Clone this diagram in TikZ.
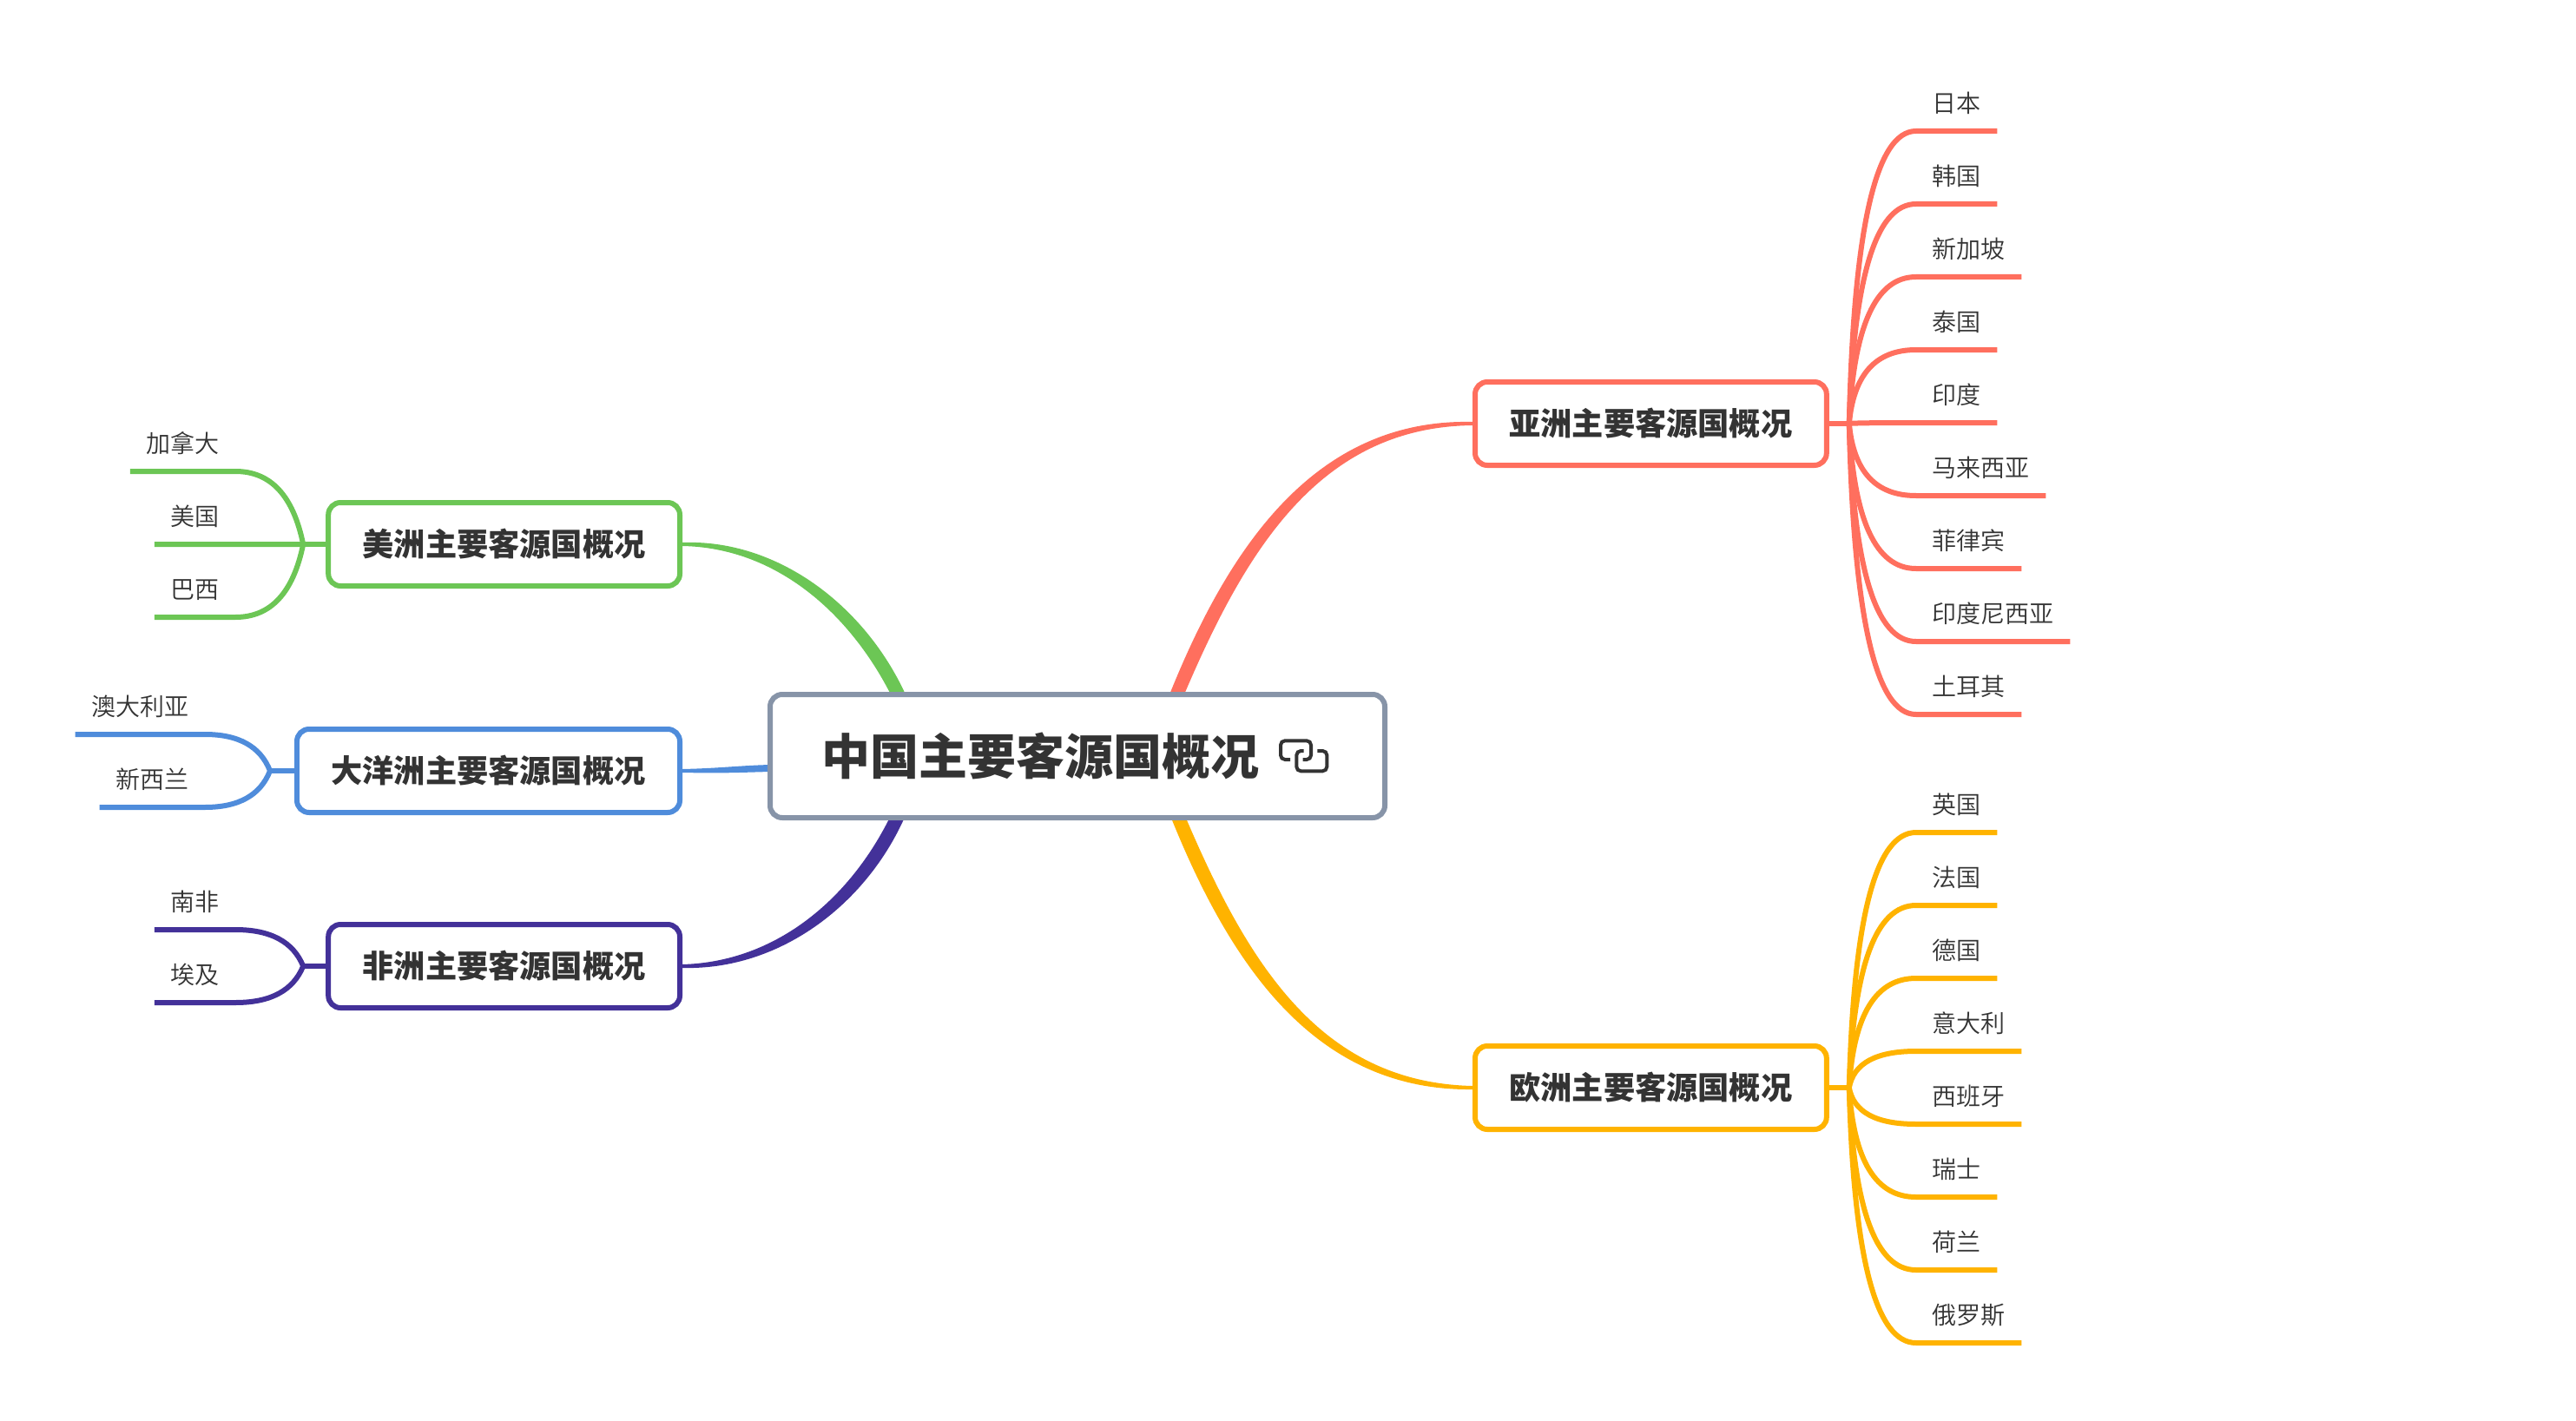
\documentclass[tikz,border=0pt]{standalone}
\usepackage{fontspec}
\setmainfont{Noto Sans CJK SC}
\newfontfamily\leaffont{Noto Sans CJK SC DemiLight}
\usetikzlibrary{positioning,calc,backgrounds}

\definecolor{rootgray}{HTML}{8794A8}
\definecolor{inkgray}{HTML}{333333}
\definecolor{asiared}{HTML}{FF6F5E}
\definecolor{euroyellow}{HTML}{FFB300}
\definecolor{amergreen}{HTML}{6CC655}
\definecolor{oceablue}{HTML}{4F8CDB}
\definecolor{afripurple}{HTML}{433199}

% one thin branch: colour, hub, near end of the leaf line, far end of the leaf line
\newcommand{\twig}[5][.1]{%
  \coordinate (bend) at ($(#3 |- #4)!#1!(#4)$);
  \draw[twigline, #2] (#3) .. controls ($(#3)!.667!(bend)$) and ($(#4)!.667!(bend)$) .. (#4) -- (#5);}

\begin{document}
\begin{tikzpicture}[
  rootbox/.style={rectangle, rounded corners=.14cm, draw=rootgray, fill=white, line width=.06cm, minimum width=7.08cm, minimum height=1.42cm, inner xsep=0pt, text=inkgray, text height=14pt, text depth=1.9pt, font=\fontsize{15.93pt}{19pt}\selectfont\bfseries},
  subbox/.style={rectangle, rounded corners=.14cm, draw=#1, fill=white, line width=.06cm, minimum height=.96cm, inner xsep=.395cm, text=inkgray, text height=9pt, text depth=1.23pt, font=\fontsize{10.3pt}{12pt}\selectfont\bfseries},
  leafbox/.style={inner xsep=.18cm, inner ysep=0pt, text=inkgray, text height=8pt, text depth=5.8pt, font=\leaffont\fontsize{7.97pt}{10pt}\selectfont},
  leafr/.style={leafbox, anchor=south west},
  leafl/.style={leafbox, anchor=south east},
  twigline/.style={line width=.06cm},
  taper/.style={line width=.04cm, fill=#1, draw=#1, line join=round},
  linkicon/.style={draw=inkgray, line width=.04cm, rounded corners=.05cm},
  node distance=.84cm
]
\useasboundingbox (0,0) rectangle (29.67,-16.37);

\node[rootbox] (root) at (12.41,-8.71) {中国主要客源国概况\kern.85cm};

\node[subbox=asiared, above right=2.58cm and .98cm of root] (asia) {亚洲主要客源国概况};
\node[subbox=euroyellow, below right=2.57cm and .98cm of root] (euro) {欧洲主要客源国概况};
\node[subbox=amergreen, above left=1.19cm and .98cm of root] (amer) {美洲主要客源国概况};
\node[subbox=oceablue, left=.98cm of root, yshift=-.17cm] (ocea) {大洋洲主要客源国概况};
\node[subbox=afripurple, below left=1.17cm and .98cm of root] (afri) {非洲主要客源国概况};

\coordinate (asiahub) at ($(asia.east)+(.23,0)$);
\coordinate (eurohub) at ($(euro.east)+(.23,0)$);
\coordinate (amerhub) at ($(amer.west)+(-.26,0)$);
\coordinate (oceahub) at ($(ocea.west)+(-.28,0)$);
\coordinate (afrihub) at ($(afri.west)+(-.26,0)$);

% asia leaves
\node[above right=2.86cm and 1.0cm of asia.north east, leafr] (as1) {日本};
\node[below=of as1.south west, leafr] (as2) {韩国};
\node[below=of as2.south west, leafr] (as3) {新加坡};
\node[below=of as3.south west, leafr] (as4) {泰国};
\node[below=of as4.south west, leafr] (as5) {印度};
\node[below=of as5.south west, leafr] (as6) {马来西亚};
\node[below=of as6.south west, leafr] (as7) {菲律宾};
\node[below=of as7.south west, leafr] (as8) {印度尼西亚};
\node[below=of as8.south west, leafr] (as9) {土耳其};

% europe leaves
\node[above right=2.43cm and 1.0cm of euro.north east, leafr] (eu1) {英国};
\node[below=of eu1.south west, leafr] (eu2) {法国};
\node[below=of eu2.south west, leafr] (eu3) {德国};
\node[below=of eu3.south west, leafr] (eu4) {意大利};
\node[below=of eu4.south west, leafr] (eu5) {西班牙};
\node[below=of eu5.south west, leafr] (eu6) {瑞士};
\node[below=of eu6.south west, leafr] (eu7) {荷兰};
\node[below=of eu7.south west, leafr] (eu8) {俄罗斯};

% left side leaves
\node[above left=.33cm and 1.04cm of amer.north west, leafl] (am1) {加拿大};
\node[below=of am1.south east, leafl] (am2) {美国};
\node[below=of am2.south east, leafl] (am3) {巴西};
\node[above left=-.09cm and 1.03cm of ocea.north west, leafl] (oc1) {澳大利亚};
\node[below=of oc1.south east, leafl] (oc2) {新西兰};
\node[above left=-.09cm and 1.04cm of afri.north west, leafl] (af1) {南非};
\node[below=of af1.south east, leafl] (af2) {埃及};

% thin branches
\draw[twigline, asiared] (asia) -- (asiahub);
\twig{asiared}{asiahub}{as1.south west}{as1.south east}
\twig{asiared}{asiahub}{as2.south west}{as2.south east}
\twig{asiared}{asiahub}{as3.south west}{as3.south east}
\twig{asiared}{asiahub}{as4.south west}{as4.south east}
\twig{asiared}{asiahub}{as5.south west}{as5.south east}
\twig{asiared}{asiahub}{as6.south west}{as6.south east}
\twig{asiared}{asiahub}{as7.south west}{as7.south east}
\twig{asiared}{asiahub}{as8.south west}{as8.south east}
\twig{asiared}{asiahub}{as9.south west}{as9.south east}

\draw[twigline, euroyellow] (euro) -- (eurohub);
\twig{euroyellow}{eurohub}{eu1.south west}{eu1.south east}
\twig{euroyellow}{eurohub}{eu2.south west}{eu2.south east}
\twig{euroyellow}{eurohub}{eu3.south west}{eu3.south east}
\twig{euroyellow}{eurohub}{eu4.south west}{eu4.south east}
\twig{euroyellow}{eurohub}{eu5.south west}{eu5.south east}
\twig{euroyellow}{eurohub}{eu6.south west}{eu6.south east}
\twig{euroyellow}{eurohub}{eu7.south west}{eu7.south east}
\twig{euroyellow}{eurohub}{eu8.south west}{eu8.south east}

\draw[twigline, amergreen] (amer) -- (amerhub);
\twig[.22]{amergreen}{amerhub}{am1.south east}{am1.south west}
\twig[.22]{amergreen}{amerhub}{am2.south east}{am2.south west}
\twig[.22]{amergreen}{amerhub}{am3.south east}{am3.south west}

\draw[twigline, oceablue] (ocea) -- (oceahub);
\twig[.22]{oceablue}{oceahub}{oc1.south east}{oc1.south west}
\twig[.22]{oceablue}{oceahub}{oc2.south east}{oc2.south west}

\draw[twigline, afripurple] (afri) -- (afrihub);
\twig[.22]{afripurple}{afrihub}{af1.south east}{af1.south west}
\twig[.22]{afripurple}{afrihub}{af2.south east}{af2.south west}

% thick branches, tapering away from the root
\begin{scope}[on background layer]
\draw[taper=asiared] (asia.west) .. controls (15.2,-4.84) and (14.2,-6.24) .. ($(root.north)+(1.082,-.03)$) -- ($(root.north)+(1.208,-.03)$) .. controls (14.34,-6.30) and (15.2,-4.90) .. (asia.west);
\draw[taper=euroyellow] (euro.west) .. controls (15.2,-12.55) and (14.22,-11.18) .. ($(root.south)+(1.10,.03)$) -- ($(root.south)+(1.226,.03)$) .. controls (14.36,-11.12) and (15.2,-12.49) .. (euro.west);
\draw[taper=amergreen] (amer.east) .. controls (8.95,-6.29) and (9.80,-7.05) .. ($(root.north)+(-2.128,-.03)$) -- ($(root.north)+(-2.002,-.03)$) .. controls (9.94,-6.99) and (8.95,-6.23) .. (amer.east);
\draw[taper=afripurple] (afri.east) .. controls (8.95,-11.10) and (9.80,-10.37) .. ($(root.south)+(-2.14,.03)$) -- ($(root.south)+(-2.014,.03)$) .. controls (9.94,-10.43) and (8.95,-11.16) .. (afri.east);
\draw[taper=oceablue] (ocea.east) .. controls (8.3,-8.87) and (8.5,-8.84) .. ($(root.west)+(.03,-.12)$) -- ($(root.west)+(.03,-.16)$) .. controls (8.5,-8.88) and (8.3,-8.89) .. (ocea.east);
\end{scope}

% link icon of the root
\draw[linkicon] ($(root.center)+(2.45,-.04)$) -- ($(root.center)+(2.34,-.04)$) -- ($(root.center)+(2.34,.177)$) -- ($(root.center)+(2.69,.177)$) -- ($(root.center)+(2.69,-.04)$) -- ($(root.center)+(2.597,-.04)$);
\draw[linkicon] ($(root.center)+(2.763,.06)$) -- ($(root.center)+(2.873,.06)$) -- ($(root.center)+(2.873,-.173)$) -- ($(root.center)+(2.523,-.173)$) -- ($(root.center)+(2.523,.06)$) -- ($(root.center)+(2.607,.06)$);
\end{tikzpicture}
\end{document}
